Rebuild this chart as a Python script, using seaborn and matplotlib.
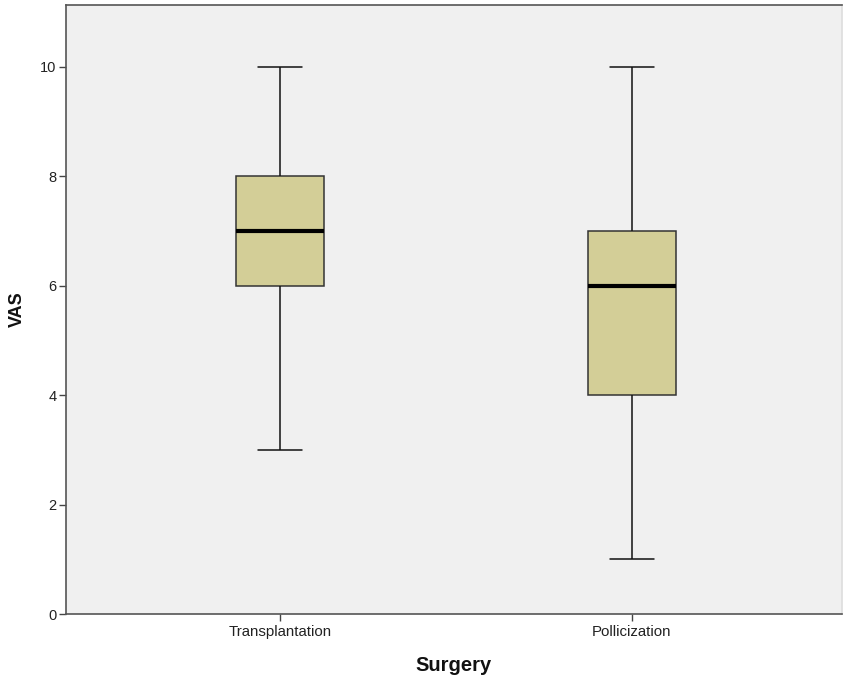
import matplotlib
matplotlib.use("Agg")
import matplotlib.pyplot as plt
import seaborn as sns
import pandas as pd

# Five-number summaries (min, Q1, median, Q3, max) of VAS by surgery type
categories = ["Transplantation", "Pollicization"]
transplantation_vas = [3, 6, 7, 8, 10]
pollicization_vas = [1, 4, 6, 7, 10]
y_ticks = [0, 2, 4, 6, 8, 10]

df = pd.DataFrame({
    "Surgery": [categories[0]] * len(transplantation_vas) + [categories[1]] * len(pollicization_vas),
    "VAS": transplantation_vas + pollicization_vas,
})

sns.set_style("white")
plt.rcParams["font.family"] = ["Liberation Sans", "DejaVu Sans"]

fig = plt.figure(figsize=(8.44, 6.82), dpi=100)
ax = fig.add_axes([66 / 844, 68 / 682, (842 - 66) / 844, (614 - 5) / 682])
ax.set_facecolor("#F0F0F0")

sns.boxplot(
    data=df, x="Surgery", y="VAS", order=categories, ax=ax,
    width=0.25, color="#D3CE97", saturation=1, linewidth=1.1,
    whis=1.5, fliersize=0,
    boxprops=dict(edgecolor="#333333", facecolor="#D3CE97"),
    whiskerprops=dict(color="#111111"),
    capprops=dict(color="#111111"),
    medianprops=dict(color="black", linewidth=3),
)

ax.set_xlim(-0.608, 1.597)
ax.set_ylim(0, 11.13)
ax.set_yticks(y_ticks)
ax.set_yticklabels([str(v) for v in y_ticks])

for side in ["left", "bottom", "top", "right"]:
    ax.spines[side].set_visible(True)
    ax.spines[side].set_color("#555555")
    ax.spines[side].set_linewidth(1.2)
ax.spines["right"].set_color("#DDDDDD")

ax.tick_params(axis="both", direction="out", length=5, width=1, color="#444444",
               labelsize=10.5, labelcolor="#222222", pad=2, bottom=True, left=True)
ax.tick_params(axis="x", labelsize=10.8, pad=3)

ax.set_xlabel("Surgery", fontsize=14.5, fontweight="bold", color="#111111", labelpad=12)
ax.set_ylabel("VAS", fontsize=13, fontweight="bold", color="#111111", labelpad=10)

fig.savefig("out.png", dpi=100, facecolor="white")
